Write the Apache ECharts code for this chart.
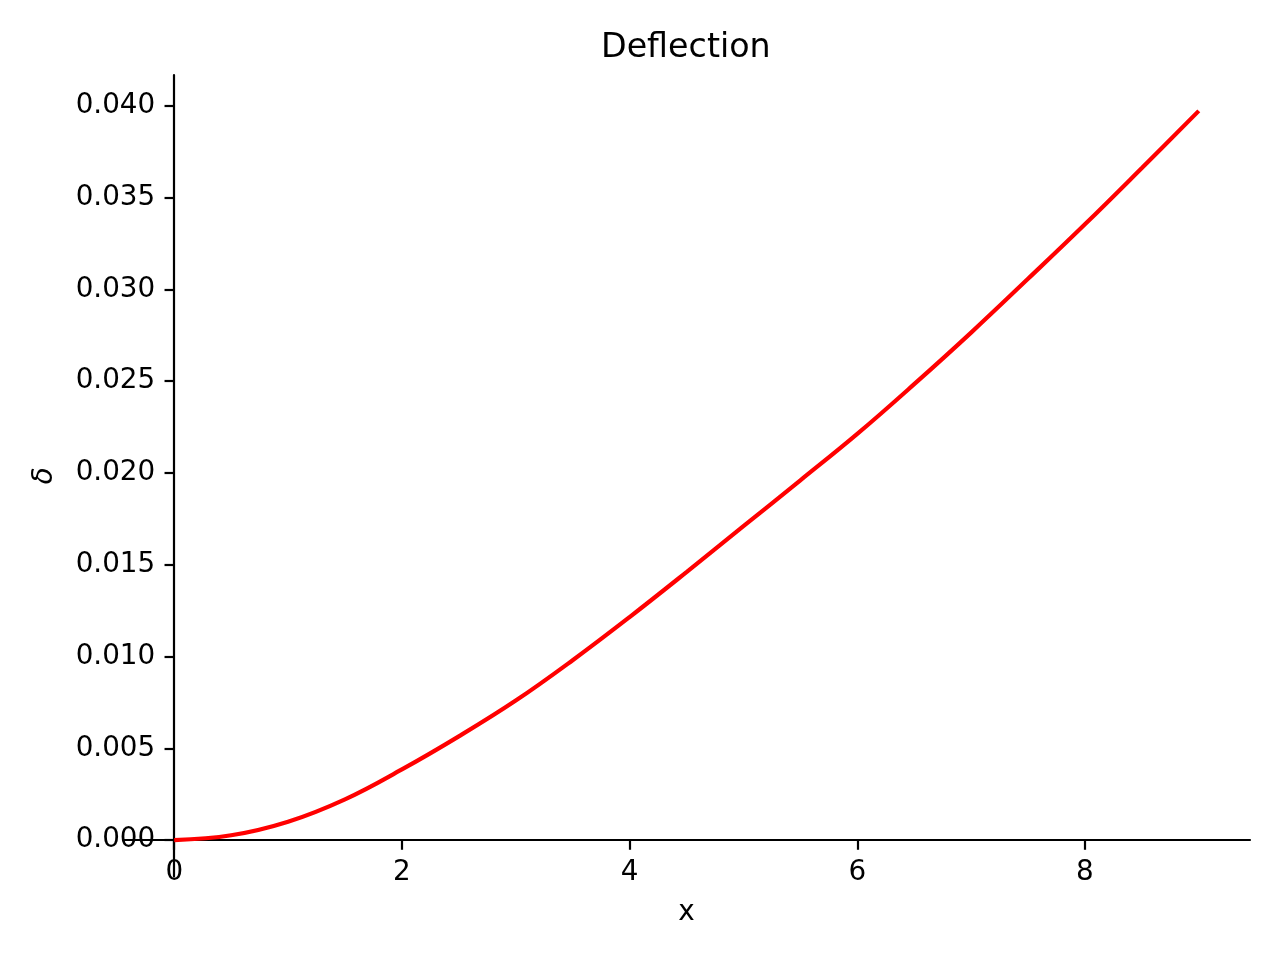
<!DOCTYPE html>
<html>
<head>
<meta charset="utf-8">
<script src="https://cdn.jsdelivr.net/npm/echarts@6/dist/echarts.min.js"></script>
<style>
  html, body { margin: 0; padding: 0; background: #fff; }
  #chart { width: 1280px; height: 960px; }
</style>
</head>
<body>
<div id="chart"></div>
<script>
// Data
const xValues = [0, 0.5, 1, 1.5, 2, 2.5, 3, 3.5, 4, 4.5, 5, 5.5, 6, 6.5, 7, 7.5, 8, 8.5, 9];
const deflection = [0, 0.00026, 0.00100, 0.00222, 0.00385, 0.00565, 0.00760, 0.00980, 0.01215,
  0.01460, 0.01710, 0.01960, 0.02213, 0.02484, 0.02765, 0.03058, 0.03355, 0.03662, 0.03973];
const xTicks = [0, 2, 4, 6, 8];
const yTicks = [0, 0.005, 0.01, 0.015, 0.02, 0.025, 0.03, 0.035, 0.04];
const titleText = 'Deflection';
const xLabel = 'x';
const yLabel = 'δ';

const seriesData = xValues.map((x, i) => [x, deflection[i]]);

// axis ranges (5% margins like the reference)
const xMin = -0.45, xMax = 9.45;
const yMin = -0.001985, yMax = 0.041685;

const GRID = { left: 123, right: 30, top: 75, bottom: 83.5 };
const W = 1280, H = 960;
const gridW = W - GRID.left - GRID.right;
const gridH = H - GRID.top - GRID.bottom;
// distance from the grid edge to the zero lines, so the spines sit at zero
const yAxisShift = (0 - xMin) / (xMax - xMin) * gridW;
const xAxisShift = (0 - yMin) / (yMax - yMin) * gridH;

const FONT = 'DejaVu Sans';
const chart = echarts.init(document.getElementById('chart'), null, { renderer: 'canvas' });
chart.setOption({
  animation: false,
  backgroundColor: '#ffffff',
  title: {
    text: titleText,
    left: 601,
    top: 32,
    padding: 0,
    textStyle: { fontFamily: FONT, fontSize: 33.3, fontWeight: 'normal', color: '#000' }
  },
  grid: Object.assign({ containLabel: false, outerBoundsMode: 'none' }, GRID),
  xAxis: {
    type: 'value',
    min: xMin,
    max: xMax,
    offset: -xAxisShift,
    name: xLabel,
    nameLocation: 'middle',
    nameGap: 59,
    nameTextStyle: { fontFamily: FONT, fontSize: 27.8, color: '#000' },
    axisLine: { show: true, onZero: false, lineStyle: { color: '#000', width: 2.2 } },
    axisTick: { show: true, length: 9.7, customValues: xTicks, lineStyle: { color: '#000', width: 2.2 } },
    axisLabel: {
      customValues: xTicks, margin: 19, fontFamily: FONT, fontSize: 27.8, color: '#000',
      formatter: v => String(Math.round(v))
    },
    splitLine: { show: false }
  },
  yAxis: {
    type: 'value',
    min: yMin,
    max: yMax,
    offset: -yAxisShift,
    name: yLabel,
    nameLocation: 'middle',
    nameRotate: 90,
    nameGap: 115,
    nameTextStyle: { fontFamily: FONT, fontSize: 27.8, fontStyle: 'italic', color: '#000' },
    axisLine: { show: true, onZero: false, lineStyle: { color: '#000', width: 2.2 } },
    axisTick: { show: true, length: 9.7, customValues: yTicks, lineStyle: { color: '#000', width: 2.2 } },
    axisLabel: {
      customValues: yTicks, margin: 19, fontFamily: FONT, fontSize: 27.8, color: '#000',
      formatter: v => v.toFixed(3)
    },
    splitLine: { show: false }
  },
  series: [{
    type: 'line',
    data: seriesData,
    showSymbol: false,
    smooth: 0.4,
    lineStyle: { color: '#ff0000', width: 4.2 },
    itemStyle: { color: '#ff0000' }
  }]
});
</script>
</body>
</html>
